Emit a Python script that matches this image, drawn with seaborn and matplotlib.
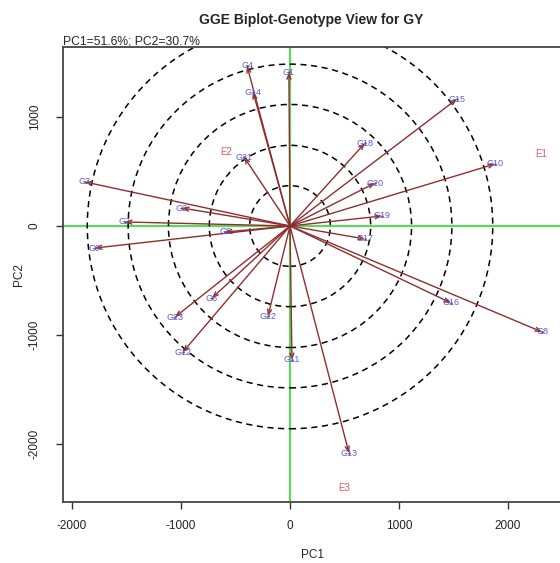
import matplotlib
matplotlib.use('Agg')
import matplotlib.pyplot as plt
from matplotlib.patches import Circle
import pandas as pd
import seaborn as sns

# genotype scores (arrow tips)
genotypes = ['G1', 'G2', 'G3', 'G4', 'G5', 'G6', 'G7', 'G8', 'G9', 'G10', 'G11', 'G12',
             'G13', 'G14', 'G15', 'G16', 'G17', 'G18', 'G19', 'G20', 'G21', 'G22', 'G23']
gen_pc1 = [-10, -991, -1881, -394, -596, -716, -1514, 2312, -1789, 1881, 18, -982,
           541, -339, 1532, 1477, 688, 688, 844, 780, -422, -202, -1055]
gen_pc2 = [1410, 165, 404, 1468, -55, -661, 37, -972, -202, 569, -1229, -1156,
           -2083, 1229, 1165, -706, -119, 761, 92, 394, 633, -826, -835]

# environment scores
environments = ['E1', 'E2', 'E3']
env_pc1 = [2303, -587, 495]
env_pc2 = [661, 679, -2404]

circle_radii = [370, 740, 1115, 1485, 1860]
x_ticks = [-2000, -1000, 0, 1000, 2000]
y_ticks = [-2000, -1000, 0, 1000]

df_gen = pd.DataFrame({'genotype': genotypes, 'PC1': gen_pc1, 'PC2': gen_pc2})
df_env = pd.DataFrame({'env': environments, 'PC1': env_pc1, 'PC2': env_pc2})

sns.set_theme(style='ticks')
plt.rcParams['font.family'] = ['Liberation Sans', 'DejaVu Sans']

W, H = 560, 563
fig = plt.figure(figsize=(W / 100, H / 100), dpi=100)

# plot region in pixels, equal scale (0.109 px per unit) on both axes
px_left, px_right, px_top, px_bottom = 63, 561, 47, 502
scale = 0.109
x0 = -(290 - px_left) / scale
y1 = (226 - px_top) / scale
ax = fig.add_axes([px_left / W, (H - px_bottom) / H,
                   (px_right - px_left) / W, (px_bottom - px_top) / H])
ax.set_xlim(x0, x0 + (px_right - px_left) / scale)
ax.set_ylim(y1 - (px_bottom - px_top) / scale, y1)

arrow_col = '#8e2f2f'
gen_col = '#5a5ad8'
env_col = '#e05a5a'

ax.axhline(0, color='#55dd55', lw=1.5, zorder=1)
ax.axvline(0, color='#55dd55', lw=1.5, zorder=1)

for r in circle_radii:
    ax.add_patch(Circle((0, 0), r, fill=False, ls=(0, (4, 3)), lw=1.1,
                        edgecolor='black', zorder=2))

for _, row in df_gen.iterrows():
    ax.annotate('', xy=(row['PC1'], row['PC2']), xytext=(0, 0),
                arrowprops=dict(arrowstyle='->,head_length=0.3,head_width=0.12',
                                color=arrow_col, lw=1.0, shrinkA=0, shrinkB=0),
                zorder=3)

sns.scatterplot(data=df_gen, x='PC1', y='PC2', s=3, color=arrow_col,
                linewidth=0, legend=False, ax=ax, zorder=4)

for _, row in df_gen.iterrows():
    ax.text(row['PC1'], row['PC2'], row['genotype'], color=gen_col, fontsize=6.5,
            ha='center', va='center', zorder=5)
for _, row in df_env.iterrows():
    ax.text(row['PC1'], row['PC2'], row['env'], color=env_col, fontsize=7,
            ha='center', va='center', zorder=5)

ax.set_xticks(x_ticks)
ax.set_yticks(y_ticks)
ax.set_xticklabels([str(t) for t in x_ticks])
ax.set_yticklabels([str(t) for t in y_ticks], rotation=90, va='center')
ax.tick_params(axis='both', direction='out', length=5, width=1, color='#333333',
               labelsize=8.5, labelcolor='#222222')
ax.tick_params(axis='x', pad=8)
ax.tick_params(axis='y', pad=11)
for s in ax.spines.values():
    s.set_color('#444444')
    s.set_linewidth(1.3)

ax.set_xlabel('PC1', fontsize=8.5, color='#222222', labelpad=12)
ax.set_ylabel('PC2', fontsize=8.5, color='#222222', labelpad=3)

fig.text(311 / W, 1 - 20 / H, 'GGE Biplot-Genotype View for GY', fontsize=10,
         fontweight='bold', ha='center', va='center')
fig.text(px_left / W, 1 - 42 / H, 'PC1=51.6%; PC2=30.7%', fontsize=8.7,
         ha='left', va='center')

fig.savefig('out.png', dpi=100)
